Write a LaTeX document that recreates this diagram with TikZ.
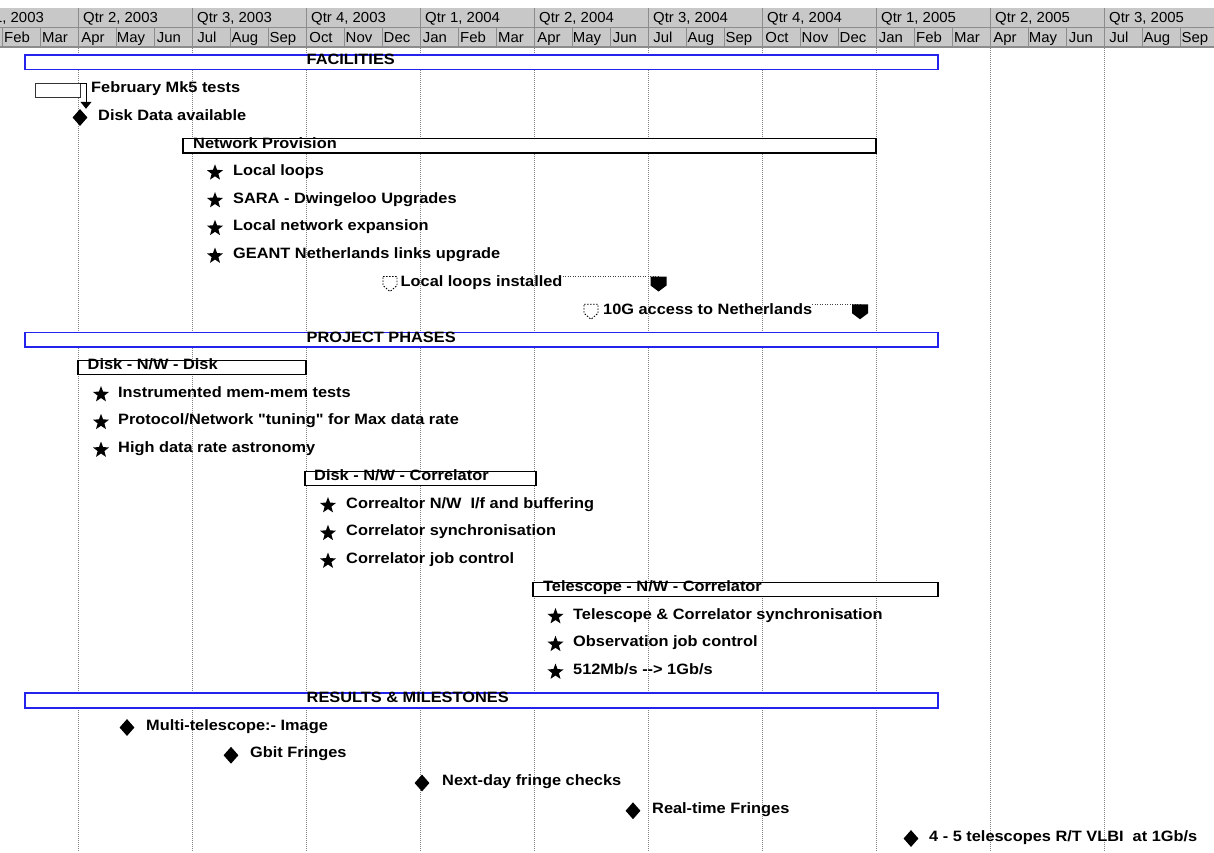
\documentclass[tikz,border=0pt]{standalone}
\usepackage{fontspec}
\setmainfont{Liberation Sans}
\newfontfamily\hdrfam[FakeStretch=1.03]{Liberation Sans}
\newfontfamily\bodyfam[FakeStretch=1.09]{Liberation Sans}
\usetikzlibrary{shapes.geometric,arrows.meta}
\definecolor{hdrbg}{RGB}{200,200,200}
\definecolor{hdrln}{RGB}{140,140,140}
\definecolor{barblue}{RGB}{35,35,235}
\definecolor{gridc}{RGB}{130,130,130}
\begin{document}
\begin{tikzpicture}[x=1pt,y=-1pt,
  hdrtxt/.style={font=\hdrfam\fontsize{14.5}{16}\selectfont, inner sep=0pt, anchor=base},
  qtrtxt/.style={hdrtxt, anchor=base west},
  lbl/.style={font=\bodyfam\bfseries\fontsize{15}{17}\selectfont, inner sep=0pt, anchor=base west},
  secbar/.style={draw=barblue, line width=1.6pt, fill=white, rectangle, inner sep=0pt, outer sep=0pt, anchor=north west, minimum height=14.5pt},
  sumbar/.style={draw=black, line width=1.1pt, fill=white, rectangle, inner sep=0pt, outer sep=0pt, anchor=north west, minimum height=14.5pt},
  starm/.style={star, star points=5, star point ratio=2.4, fill=black, minimum size=17pt, inner sep=0pt},
  msd/.style={diamond, fill=black, minimum width=15pt, minimum height=17pt, inner sep=0pt},
  gridln/.style={draw=gridc, line width=0.8pt, dash pattern=on 1pt off 1pt},
  dotln/.style={draw=black!75, line width=1pt, dash pattern=on 1pt off 1.5pt},
  dlfill/.pic={\fill (-8,0) -- (8,0) -- (8,9) -- (0,15) -- (-8,9) -- cycle;},
  dlopen/.pic={\draw[line width=0.9pt, dash pattern=on 1.5pt off 1.5pt] (-7,0) -- (7,0) -- (7,9) -- (0,15) -- (-7,9) -- cycle;}
]
\useasboundingbox (0,0) rectangle (1214,852);
\clip (0,0) rectangle (1214,852);
\fill[white] (0,0) rectangle (1214,852);

% ---- timescale header ----
\fill[hdrbg] (0,8) rectangle (1214,47);
\draw[hdrln] (0,27.5) -- (1214,27.5);
\draw[hdrln, line width=1.3pt] (0,47) -- (1214,47);
\foreach \k in {0,...,10}{
  \pgfmathsetmacro\xq{-36+114*\k}
  \pgfmathtruncatemacro\qn{mod(\k,4)+1}
  \pgfmathtruncatemacro\yr{2003+floor(\k/4)}
  \draw[hdrln] (\xq,8) -- (\xq,27.5);
  \node[qtrtxt] (q\k) at (\xq+5,22.5) {Qtr \qn, \yr};
}
\foreach \mname [count=\m from 0] in {Jan,Feb,Mar,Apr,May,Jun,Jul,Aug,Sep,Oct,Nov,Dec,Jan,Feb,Mar,Apr,May,Jun,Jul,Aug,Sep,Oct,Nov,Dec,Jan,Feb,Mar,Apr,May,Jun,Jul,Aug,Sep}{
  \pgfmathsetmacro\xm{-36+38*\m}
  \draw[hdrln] (\xm,27.5) -- (\xm,47);
  \node[hdrtxt] (mo\m) at (\xm+15,42) {\mname};
}

% ---- grid ----
\foreach \k in {0,...,9}{
  \draw[gridln] ({78+114*\k},48) -- ({78+114*\k},852);
}

% ---- FACILITIES ----
\node[secbar, minimum width=913pt] (fac) at (25,55) {};
\node[lbl] (facT) at (306.5,64.5) {FACILITIES};

\node[sumbar, draw=black!80, line width=1pt, minimum width=45pt, minimum height=14pt] (feb) at (35,83) {};
\node[lbl] (febT) at (91,92.5) {February Mk5 tests};
\node[msd] (dd) at (80,117.5) {};
\node[lbl] (ddT) at (98,120) {Disk Data available};
\draw[line width=1pt, -{Triangle[width=11pt,length=7pt]}] (feb.north east) -| ([xshift=6pt]dd.north);

\node[sumbar, minimum width=693pt] (np) at (183,138.5) {};
\node[lbl] (npT) at (193,148) {Network Provision};

\node[starm] (fs1) at (215,172.75) {};
\node[lbl] (fsT1) at (233,175.25) {Local loops};
\node[starm] (fs2) at (215,200.5) {};
\node[lbl] (fsT2) at (233,203) {SARA - Dwingeloo Upgrades};
\node[starm] (fs3) at (215,228.25) {};
\node[lbl] (fsT3) at (233,230.75) {Local network expansion};
\node[starm] (fs4) at (215,256) {};
\node[lbl] (fsT4) at (233,258.5) {GEANT Netherlands links upgrade};

% deadlines
\coordinate (dl1s) at (390,276.5);
\coordinate (dl1e) at (658.5,276.5);
\node[lbl] (dl1T) at (400.5,286.5) {Local loops installed};
\draw[dotln] (dl1T.east |- dl1e) -- (dl1e);
\pic at (dl1s) {dlopen};
\pic at (dl1e) {dlfill};

\coordinate (dl2s) at (591,304.25);
\coordinate (dl2e) at (860,304.25);
\node[lbl] (dl2T) at (603,314.25) {10G access to Netherlands};
\draw[dotln] (dl2T.east |- dl2e) -- (dl2e);
\pic at (dl2s) {dlopen};
\pic at (dl2e) {dlfill};

% ---- PROJECT PHASES ----
\node[secbar, minimum width=913pt] (pp) at (25,332.5) {};
\node[lbl] (ppT) at (306.5,342) {PROJECT PHASES};

\node[sumbar, minimum width=228pt] (p1) at (78,360.25) {};
\node[lbl] (p1T) at (87.5,369.75) {Disk - N/W - Disk};
\node[starm] (a1) at (101,394.5) {};
\node[lbl] (aT1) at (118,397) {Instrumented mem-mem tests};
\node[starm] (a2) at (101,422.25) {};
\node[lbl] (aT2) at (118,424.75) {Protocol/Network "tuning" for Max data rate};
\node[starm] (a3) at (101,450) {};
\node[lbl] (aT3) at (118,452.5) {High data rate astronomy};

\node[sumbar, minimum width=231pt] (p2) at (305,471.25) {};
\node[lbl] (p2T) at (314,480.75) {Disk - N/W - Correlator};
\node[starm] (b1) at (328,505.5) {};
\node[lbl] (bT1) at (346,508) {Correaltor N/W~ I/f and buffering};
\node[starm] (b2) at (328,533.25) {};
\node[lbl] (bT2) at (346,535.75) {Correlator synchronisation};
\node[starm] (b3) at (328,561) {};
\node[lbl] (bT3) at (346,563.5) {Correlator job control};

\node[sumbar, minimum width=405pt] (p3) at (533,582.25) {};
\node[lbl] (p3T) at (543,591.75) {Telescope - N/W - Correlator};
\node[starm] (c1) at (555.5,616.5) {};
\node[lbl] (cT1) at (573,619) {Telescope \& Correlator synchronisation};
\node[starm] (c2) at (555.5,644.25) {};
\node[lbl] (cT2) at (573,646.75) {Observation job control};
\node[starm] (c3) at (555.5,672) {};
\node[lbl] (cT3) at (573,674.5) {512Mb/s {-}{-}> 1Gb/s};

% ---- RESULTS & MILESTONES ----
\node[secbar, minimum width=913pt] (rm) at (25,693.25) {};
\node[lbl] (rmT) at (306.5,702.75) {RESULTS \& MILESTONES};

\node[msd] (r1) at (127,727.5) {};
\node[lbl] (rT1) at (146,730) {Multi-telescope:- Image};
\node[msd] (r2) at (231,755.25) {};
\node[lbl] (rT2) at (250,757.75) {Gbit Fringes};
\node[msd] (r3) at (422,783) {};
\node[lbl] (rT3) at (442,785.5) {Next-day fringe checks};
\node[msd] (r4) at (633,810.75) {};
\node[lbl] (rT4) at (652,813.25) {Real-time Fringes};
\node[msd] (r5) at (911,838.5) {};
\node[lbl] (rT5) at (929,841) {4 - 5 telescopes R/T VLBI~ at 1Gb/s};
\end{tikzpicture}
\end{document}
